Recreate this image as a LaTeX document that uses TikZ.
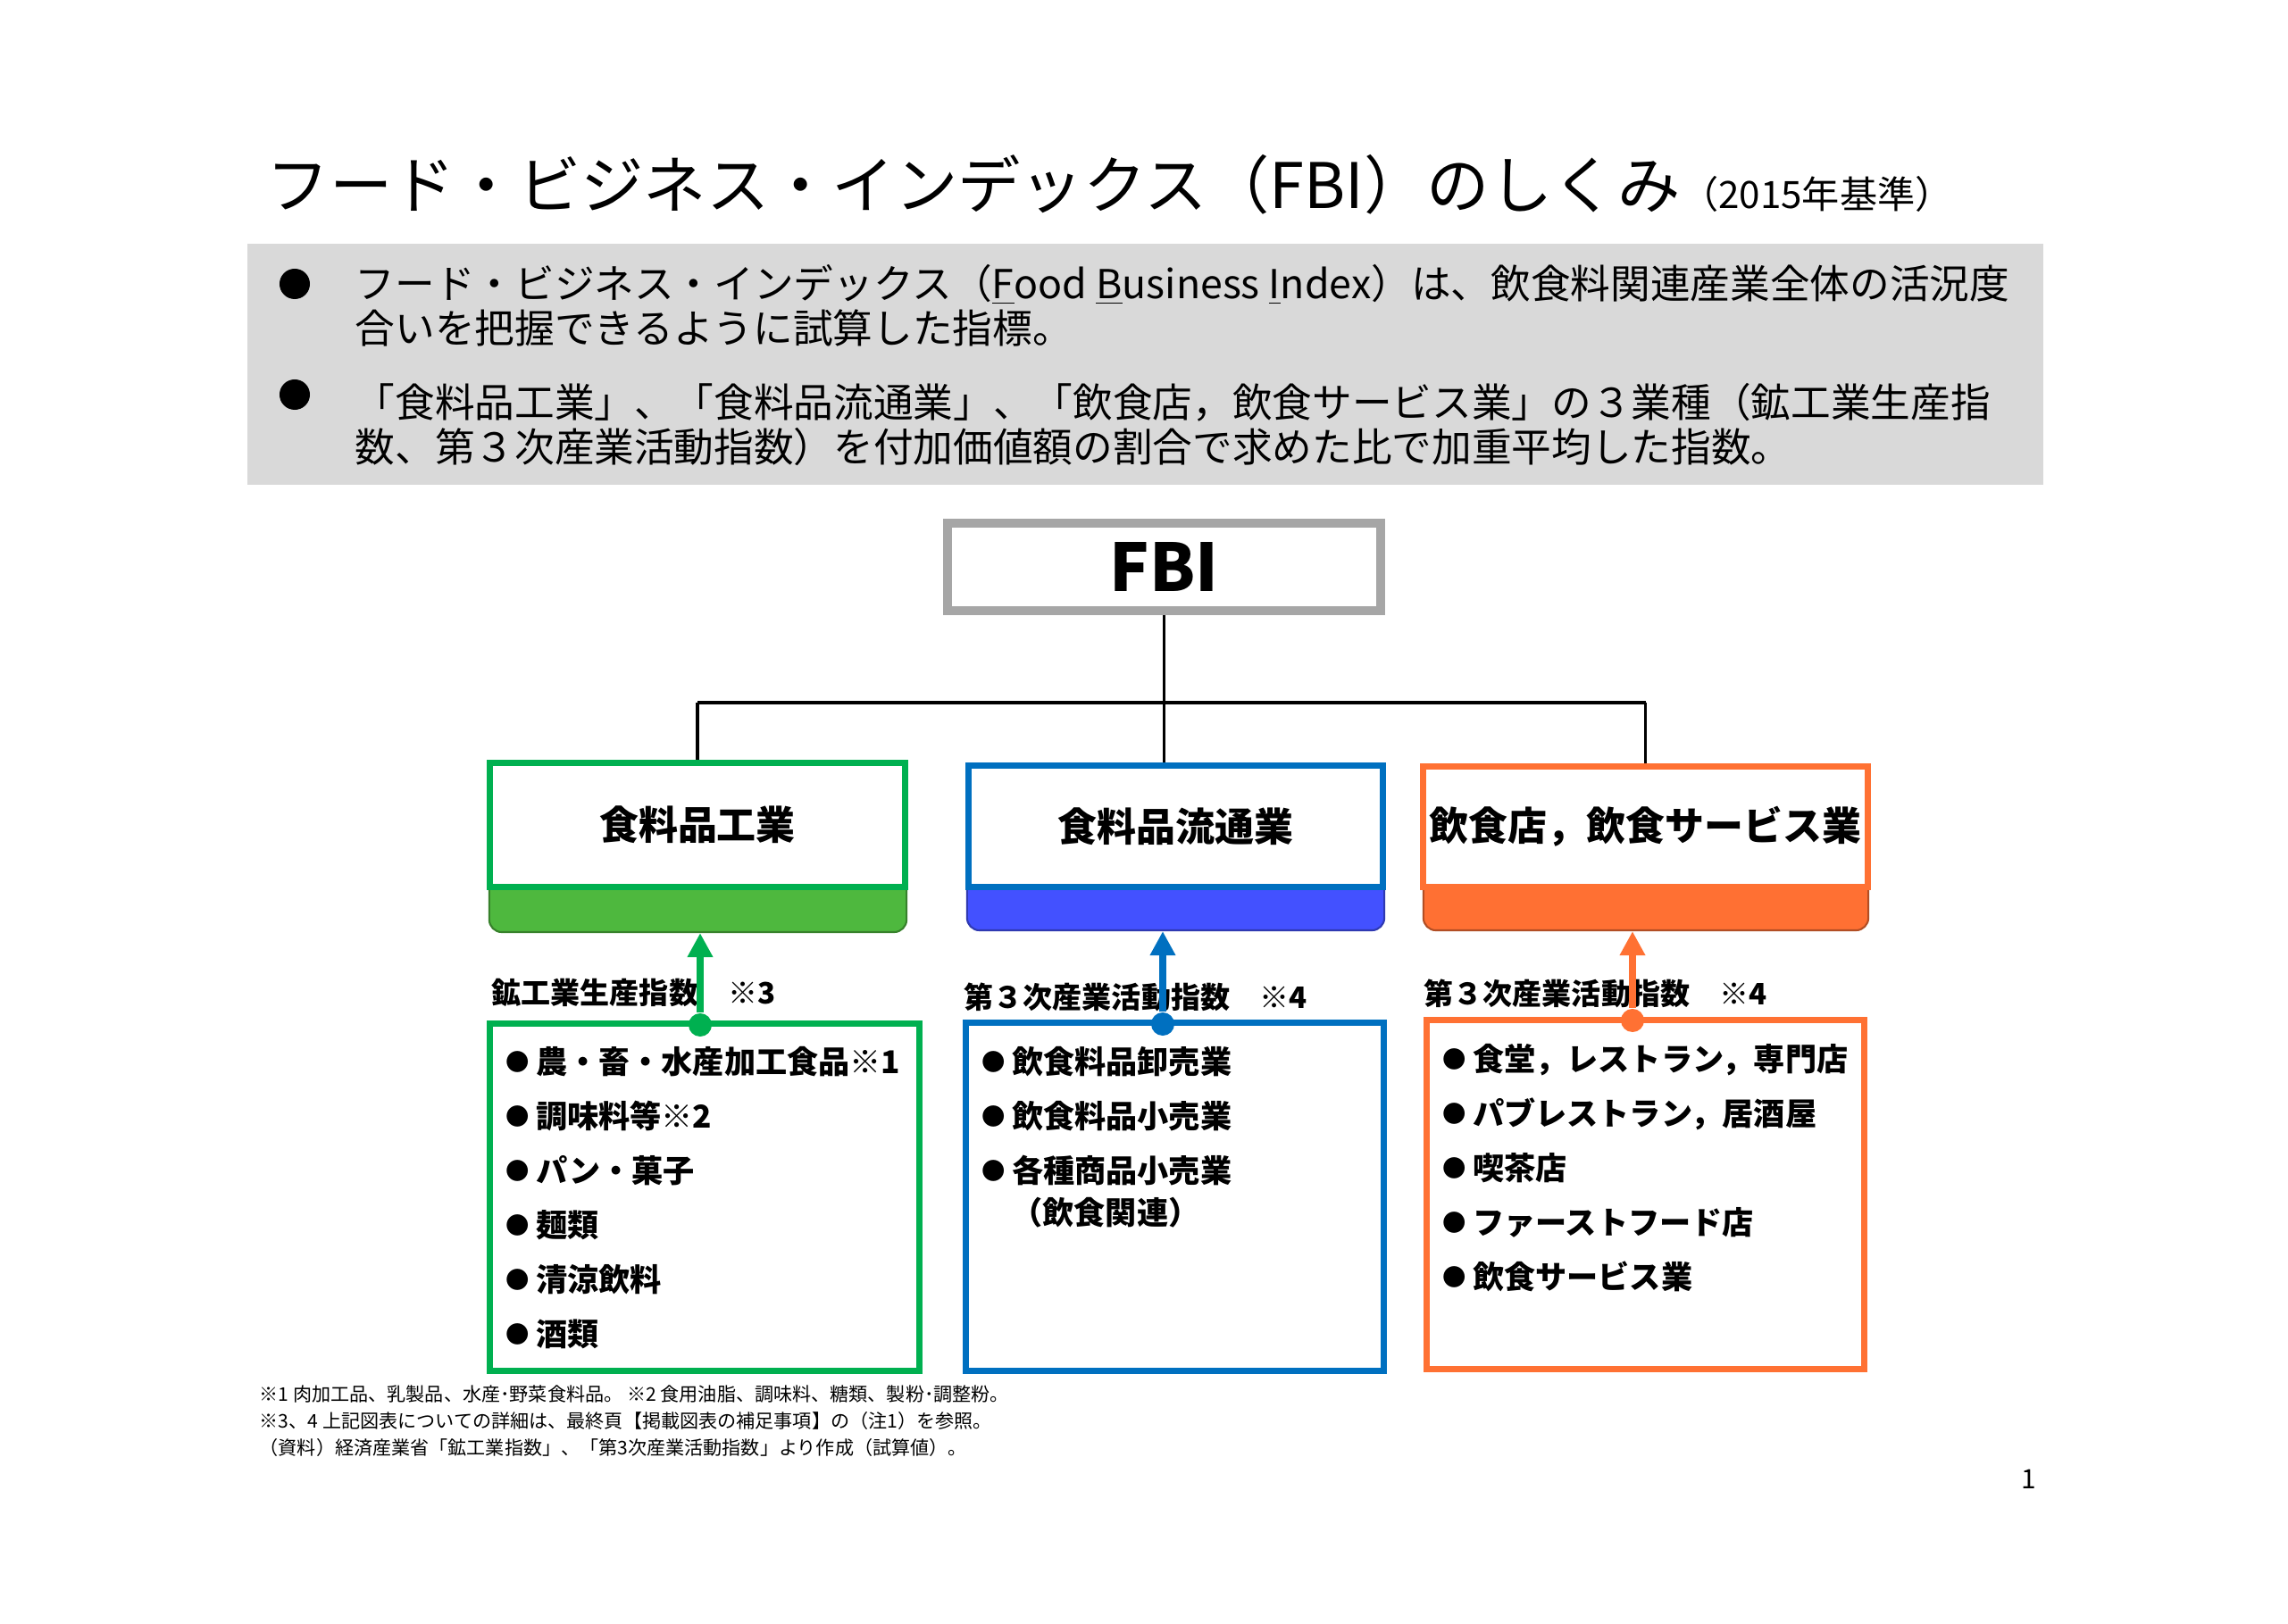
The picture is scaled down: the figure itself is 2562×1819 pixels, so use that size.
\documentclass[tikz,border=0pt]{standalone}
\usepackage{fontspec}
\setmainfont{Noto Sans CJK JP}
\usepackage{tikz}
\usetikzlibrary{arrows.meta,positioning,calc}

\definecolor{foodgreen}{HTML}{00B050}
\definecolor{foodband}{HTML}{4EB83E}
\definecolor{tradeblue}{HTML}{0070C0}
\definecolor{tradeband}{HTML}{4351FF}
\definecolor{dineorange}{HTML}{FF7133}
\definecolor{dineband}{HTML}{FF7033}
\definecolor{fbigray}{HTML}{A6A6A6}
\definecolor{summarygray}{HTML}{D9D9D9}

\newcommand{\itemdot}{\raisebox{1.1pt}{\fontsize{7.5}{8}\selectfont ●}\hspace{2pt}}

\begin{document}
\begin{tikzpicture}[x=0.01cm, y=-0.01cm,
                    every sector/.style = {fill=white},
                    sector/.style = {rectangle, draw, line width=2pt, inner sep=2pt,
                            font=\fontsize{12.5}{15}\selectfont\bfseries, every sector},
                    sector band/.style = {rectangle, rounded corners=0.14cm, line width=0.6pt, minimum height=1.40cm},
                    index box/.style = {rectangle, draw=fbigray, line width=2.85pt, fill=white,
                            minimum width=4.85cm, minimum height=0.98cm, font=\fontsize{21}{24}\selectfont\bfseries},
                    source box/.style = {rectangle, draw, line width=2pt},
                    source label/.style = {anchor=west, inner sep=0pt, font=\fontsize{9.4}{11}\selectfont\bfseries},
                    source list/.style = {anchor=north west, inner sep=0pt, align=left,
                            font=\fontsize{10}{17.35}\selectfont\bfseries},
                    link dot/.style = {circle, inner sep=0pt, minimum size=0.26cm},
                    link/.style = {line width=2pt, -{Triangle[width=7.7pt,length=7.7pt]}},
                    tree/.style = {line width=1pt},
                    bullet mark/.style = {circle, fill=black, inner sep=0pt, minimum size=0.34cm},
                    summary text/.style = {anchor=west, inner sep=0pt, align=left, font=\fontsize{12.7}{14.2}\selectfont} ]

                \useasboundingbox (0,0) rectangle (2562,1819);

                \node [anchor=west, inner sep=0pt, font=\fontsize{20}{24}\selectfont] (title) at (298,207)
                    {フード・ビジネス・インデックス（FBI）のしくみ{\fontsize{12}{14}\selectfont （2015年基準）}};

                % summary
                \node [rectangle, fill=summarygray, inner sep=0pt, minimum width=20.09cm, minimum height=2.70cm] (summary) at (1282.5,408) {};
                \node [bullet mark] (bulletA) at (330,318) {};
                \node [bullet mark] (bulletB) at (330,442) {};
                \node [summary text] (summaryA) at (397,342)
                    {フード・ビジネス・インデックス（\underline{F}ood \underline{B}usiness \underline{I}ndex）は、飲食料関連産業全体の活況度\\合いを把握できるように試算した指標。};
                \node [summary text] (summaryB) at (397,476)
                    {「食料品工業」、「食料品流通業」、「飲食店，飲食サービス業」の３業種（鉱工業生産指\\数、第３次産業活動指数）を付加価値額の割合で求めた比で加重平均した指数。};

                \node [index box] (FBI) at (1303.5,635) {FBI};

                % sectors
                \node [sector band, fill=foodband, draw=foodband!70!black, minimum width=4.67cm] (FoodBand) at (781.5,974) {};
                \node [sector band, fill=tradeband, draw=tradeband!70!black, minimum width=4.67cm] (TradeBand) at (1316.5,972) {};
                \node [sector band, fill=dineband, draw=dineband!70!black, minimum width=4.98cm] (DineBand) at (1843,972) {};
                \node [sector, draw=foodgreen, minimum width=4.65cm, minimum height=1.39cm] (FoodIndustry) at (781,924) {食料品工業};
                \node [sector, draw=tradeblue, minimum width=4.64cm, minimum height=1.36cm] (FoodTrade) at (1316.5,925.5) {食料品流通業};
                \node [sector, draw=dineorange, minimum width=4.96cm, minimum height=1.35cm] (Dining) at (1842.5,926) {飲食店，飲食サービス業};

                \coordinate (junction) at (1303,787);
                \draw [tree] (FBI.south) -- (FBI.south |- FoodTrade.north);
                \draw [tree, line width=1.4pt] (FoodIndustry.north |- junction) -- (Dining.north |- junction);
                \draw [tree] (FoodIndustry.north |- junction) -- (FoodIndustry.north);
                \draw [tree] (Dining.north |- junction) -- (Dining.north);

                % source indices
                \node [source box, draw=foodgreen, minimum width=4.81cm, minimum height=3.89cm] (FoodSource) at (789,1341) {};
                \node [source box, draw=tradeblue, minimum width=4.68cm, minimum height=3.90cm] (TradeSource) at (1315.5,1340.5) {};
                \node [source box, draw=dineorange, minimum width=4.90cm, minimum height=3.91cm] (DineSource) at (1842.5,1338) {};

                \node [source label] (FoodLabel) at (550,1112) {鉱工業生産指数　※3};
                \node [source label] (TradeLabel) at (1079,1117) {第３次産業活動指数　※4};
                \node [source label] (DineLabel) at (1594,1113) {第３次産業活動指数　※4};

                \node [source list] (FoodList) at (566,1172)
                    {\itemdot 農・畜・水産加工食品※1\\\itemdot 調味料等※2\\\itemdot パン・菓子\\\itemdot 麺類\\\itemdot 清涼飲料\\\itemdot 酒類};
                \node [source list] (TradeList) at (1099,1172)
                    {\itemdot 飲食料品卸売業\\\itemdot 飲食料品小売業\\\itemdot 各種商品小売業\\[-4pt]\hspace*{0.93em}（飲食関連）};
                \node [source list] (DineList) at (1615,1169)
                    {\itemdot 食堂，レストラン，専門店\\\itemdot パブレストラン，居酒屋\\\itemdot 喫茶店\\\itemdot ファーストフード店\\\itemdot 飲食サービス業};

                \node [link dot, fill=foodgreen] (FoodDot) at (784,1148) {} edge [link, foodgreen] (FoodDot |- FoodBand.south);
                \node [link dot, fill=tradeblue] (TradeDot) at (1302,1147) {} edge [link, tradeblue] (TradeDot |- TradeBand.south);
                \node [link dot, fill=dineorange] (DineDot) at (1828,1143) {} edge [link, dineorange] (DineDot |- DineBand.south);

                % notes
                \node [anchor=west, inner sep=0pt, align=left, font=\fontsize{6}{8.5}\selectfont] (notes) at (290,1592)
                    {※1 肉加工品、乳製品、水産･野菜食料品。 ※2 食用油脂、調味料、糖類、製粉･調整粉。\\※3、4 上記図表についての詳細は、最終頁【掲載図表の補足事項】の（注1）を参照。\\（資料）経済産業省「鉱工業指数」、「第3次産業活動指数」より作成（試算値）。};
                \node [inner sep=0pt, font=\fontsize{8.5}{10}\selectfont] (page) at (2272,1657) {1};
            \end{tikzpicture}
\end{document}
